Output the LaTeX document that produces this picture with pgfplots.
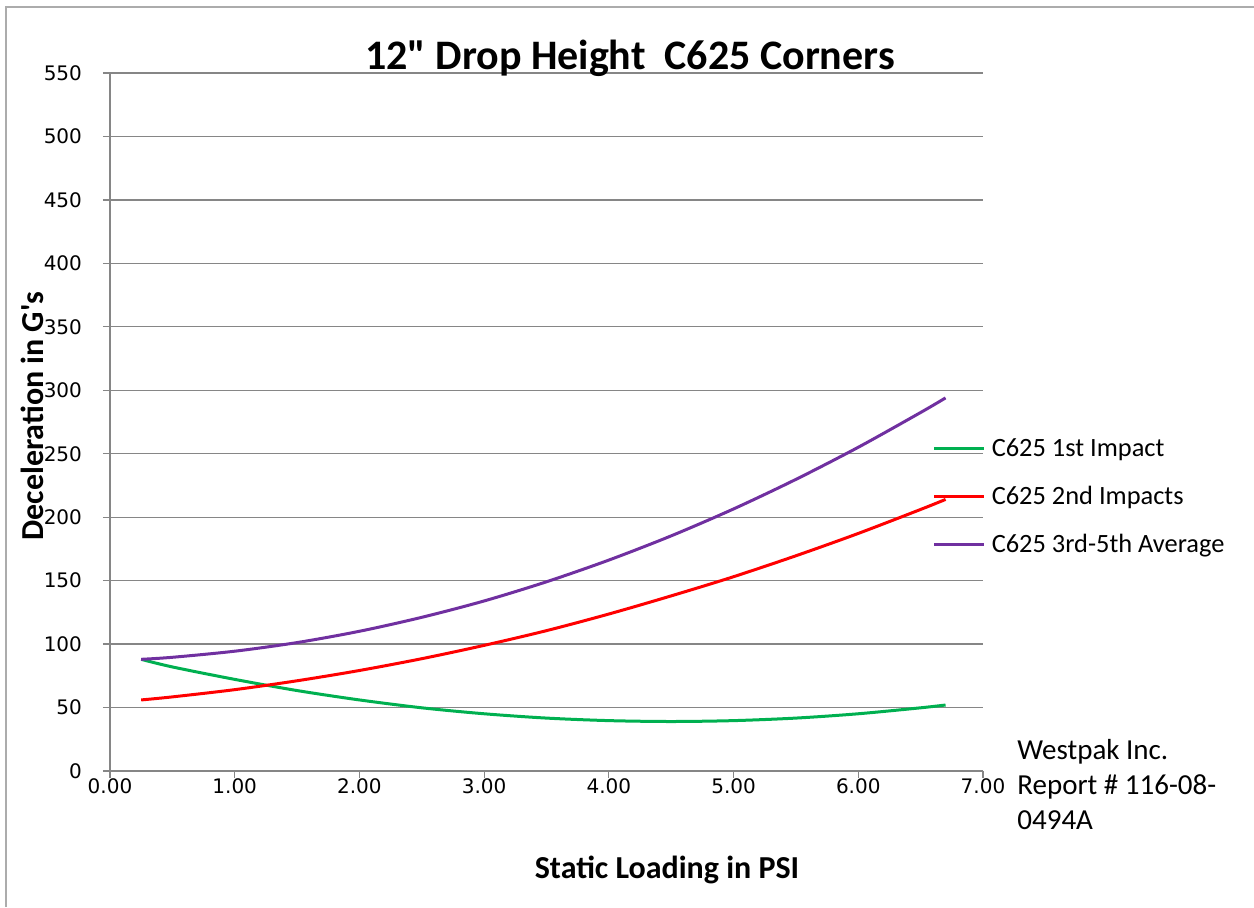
\documentclass[border=0pt]{standalone}
\usepackage{fontspec}
\setmainfont{Carlito}[Ligatures=TeXOff]
\newfontfamily\tickfont{DejaVu Sans}
\usepackage{pgfplots}
\pgfplotsset{compat=1.18}
\definecolor{gridgray}{RGB}{134,134,134}
\definecolor{xlgreen}{RGB}{0,176,80}
\definecolor{xlred}{RGB}{255,0,0}
\definecolor{xlpurple}{RGB}{112,48,160}

\begin{document}
\begin{tikzpicture}
\useasboundingbox (-55pt,-68pt) rectangle (572pt,385.5pt);
% chart frame (left and top edges visible)
\draw[gray!65,line width=1.2pt] (-52pt,-68pt) -- (-52pt,382pt) -- (572pt,382pt);
\begin{axis}[
  at={(0pt,0pt)},anchor=south west,
  scale only axis,
  width=436.5pt,height=349pt,
  xmin=0,xmax=7,ymin=0,ymax=550,
  xtick={0,1,...,7},ytick={0,50,...,550},
  axis x line=bottom,axis y line=left,
  axis line style={draw=gridgray,line width=0.6pt,-},
  ymajorgrids,grid style={draw=gridgray,line width=0.6pt},
  tick align=outside,major tick length=3.5pt,
  tick style={draw=gridgray,line width=0.6pt},
  x tick label style={yshift=3pt,/pgf/number format/fixed,/pgf/number format/fixed zerofill,
    /pgf/number format/precision=2,/pgf/number format/assume math mode=true},
  y tick label style={xshift=-7pt,/pgf/number format/assume math mode=true},
  tick label style={font=\tickfont\fontsize{10}{12}\selectfont},
  legend style={at={(0.942,0.3917)},anchor=west,draw=none,fill=none,inner sep=0pt,
    row sep=12.5pt,column sep=3pt,font=\fontsize{13.2}{15}\selectfont,
    nodes={inner sep=0pt,text height=9pt,text depth=2.5pt}},
  legend cell align=left,
  legend image code/.code={\draw[#1] (0pt,0.5pt) -- (25pt,0.5pt);},
]
\addplot[xlgreen,line width=1.5pt,smooth] coordinates {
  (0.25,88) (0.5,82) (1,72.2) (1.5,63.4) (2,56) (2.5,49.8) (3,45.1) (3.5,41.7)
  (4,39.7) (4.5,39) (5,39.7) (5.5,41.7) (6,45.1) (6.5,49.8) (6.7,52)
};
\addlegendentry{C625 1st Impact}
\addplot[xlred,line width=1.5pt,smooth] coordinates {
  (0.25,56) (0.5,58.4) (1,64.1) (1.5,71.1) (2,79.2) (2.5,88.5) (3,99) (3.5,110.6)
  (4,123.7) (4.5,138) (5,153.1) (5.5,169.6) (6,187.2) (6.5,206.1) (6.7,214)
};
\addlegendentry{C625 2nd Impacts}
\addplot[xlpurple,line width=1.5pt,smooth] coordinates {
  (0.25,88) (0.5,89.6) (1,94.4) (1.5,101.2) (2,110.1) (2.5,121.1) (3,134) (3.5,149.1)
  (4,166.2) (4.5,185.3) (5,206.5) (5.5,229.8) (6,255.1) (6.5,282.5) (6.7,294)
};
\addlegendentry{C625 3rd-5th Average}
\end{axis}
\node[font=\bfseries\fontsize{21}{24}\selectfont] at (260pt,356.5pt) {12" Drop Height\ \ C625 Corners};
\node[font=\bfseries\fontsize{16}{19}\selectfont] at (278.5pt,-49.5pt) {Static Loading in PSI};
\node[font=\bfseries\fontsize{16}{19}\selectfont,rotate=90] at (-39pt,177.5pt) {Deceleration in G's};
\node[font=\fontsize{14.5}{17.5}\selectfont,align=left,anchor=north west,inner sep=0pt] at (453.5pt,16pt)
  {Westpak Inc.\\Report \# 116-08-\\0494A};
\end{tikzpicture}
\end{document}
